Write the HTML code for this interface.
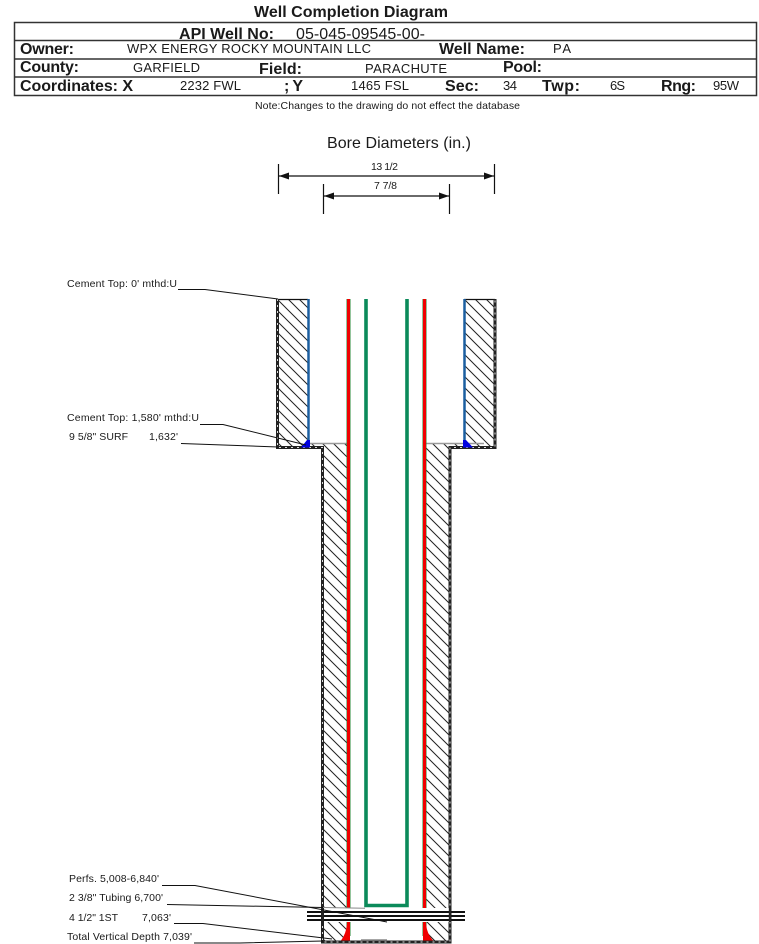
<!DOCTYPE html>
<html><head><meta charset="utf-8"><style>
html,body{margin:0;padding:0;background:#fff}
svg{display:block}
text{font-family:"Liberation Sans",sans-serif;fill:#1a1a1a}
.b{font-weight:bold}
</style></head><body>
<svg width="759" height="944" viewBox="0 0 759 944" xmlns="http://www.w3.org/2000/svg">
<defs>
<pattern id="h" width="11" height="11" patternUnits="userSpaceOnUse">
<path d="M-2,-2 L13,13 M-2,9 L2,13 M9,-2 L13,2" stroke="#222" stroke-width="1" fill="none"/>
</pattern>
</defs>

<text class="b" x="254" y="17" font-size="16" textLength="194">Well Completion Diagram</text>
<g fill="none" stroke="#333" stroke-width="1.5">
<rect x="14.5" y="22.5" width="742" height="73"/>
<path d="M14,40.5H757M14,59H757M14,77H757"/>
</g>
<text class="b" x="179" y="39" font-size="16" textLength="95">API Well No:</text>
<text x="296" y="39" font-size="16" textLength="129">05-045-09545-00-</text>
<text class="b" x="20" y="54" font-size="16" textLength="54">Owner:</text>
<text x="127" y="53" font-size="13" textLength="244">WPX ENERGY ROCKY MOUNTAIN LLC</text>
<text class="b" x="439" y="54" font-size="16" textLength="86">Well Name:</text>
<text x="553" y="53" font-size="13" textLength="18">PA</text>
<text class="b" x="20" y="72" font-size="16" textLength="59">County:</text>
<text x="133" y="72" font-size="13" textLength="67">GARFIELD</text>
<text class="b" x="259" y="74" font-size="16" textLength="43">Field:</text>
<text x="365" y="73" font-size="13" textLength="82">PARACHUTE</text>
<text class="b" x="503" y="72" font-size="16" textLength="39">Pool:</text>
<text class="b" x="20" y="91" font-size="16" textLength="113">Coordinates: X</text>
<text x="180" y="90" font-size="13" textLength="61">2232 FWL</text>
<text class="b" x="284" y="91" font-size="16" textLength="19">; Y</text>
<text x="351" y="90" font-size="13" textLength="58">1465 FSL</text>
<text class="b" x="445" y="91" font-size="16" textLength="34">Sec:</text>
<text x="503" y="90" font-size="13" textLength="14">34</text>
<text class="b" x="542" y="91" font-size="16" textLength="38">Twp:</text>
<text x="610" y="90" font-size="13" textLength="15">6S</text>
<text class="b" x="661" y="91" font-size="16" textLength="35">Rng:</text>
<text x="713" y="90" font-size="13" textLength="26">95W</text>
<text x="255" y="109" font-size="10.5" textLength="265">Note:Changes to the drawing do not effect the database</text>

<text x="327" y="148" font-size="16" textLength="144">Bore Diameters (in.)</text>
<text x="371" y="170" font-size="10.5" textLength="27">13 1/2</text>
<text x="374" y="189" font-size="10.5" textLength="23">7 7/8</text>
<g stroke="#111" stroke-width="1.2" fill="none">
<path d="M278.5,164V194M494.5,164V194M323.5,184V214M449.5,184V214"/>
<path d="M279,176H494M324,196H449"/>
</g>
<g fill="#111">
<path d="M279,176L289,172.5V179.5Z M494,176L484,172.5V179.5Z M324,196L334,192.5V199.5Z M449,196L439,192.5V199.5Z"/>
</g>

<!-- hatched cement -->
<path fill="url(#h)" d="M278,299H308V444H348V908H323V448H278Z"/>
<path fill="url(#h)" d="M464,299H495V448H450V908H425V444H464Z"/>
<rect x="323" y="922" width="25" height="20" fill="url(#h)"/>
<rect x="425" y="922" width="25" height="20" fill="url(#h)"/>

<!-- top/grey edges -->
<path d="M278,299.5H308M464,299.5H495" stroke="#111" stroke-width="1.2"/>
<path d="M308,443.5H347M426,443.5H484" stroke="#999" stroke-width="1.4"/>

<!-- casing outlines -->
<path d="M277.5,299V447.5H322.5V942H450V447.5H495V299" fill="none" stroke="#222" stroke-width="3"/>
<path d="M277.5,299V447.5H322.5V942H450V447.5H495V299" fill="none" stroke="#ddd" stroke-width="1" stroke-dasharray="2 4"/>

<!-- blue casing -->
<path d="M308.5,299V446M464.5,299V446" stroke="#1b5fa0" stroke-width="2.5" fill="none"/>
<path d="M301,447.5L307,440H310V447.5Z M463,440H466L473,447.5H463Z" fill="#0000e0"/>

<!-- production casing -->
<path d="M348.5,299V908M348.5,922V936M424.5,299V908M424.5,922V936" fill="none" stroke="#2a8a3a" stroke-width="4"/>
<path d="M348.5,299V908M348.5,922V936M424.5,299V908M424.5,922V936" fill="none" stroke="#f00000" stroke-width="3"/>
<path d="M341,940.5Q346,934 347,924V922H350V940.5Z M423,922H426V924Q427,934 433,940.5H423Z" fill="#f00000"/>

<!-- tubing -->
<path d="M366,299V905.5H407V299" fill="none" stroke="#0b8a5a" stroke-width="3.6"/>

<!-- break -->
<rect x="324" y="908" width="125" height="14" fill="#fff"/>
<path d="M307,912H465M307,916H465M307,920H465" stroke="#111" stroke-width="2"/>
<path d="M322.5,908V922M450,908V922" stroke="#222" stroke-width="2.4"/>

<path d="M361,940H387" stroke="#888" stroke-width="1.5"/>

<!-- leaders -->
<g fill="none" stroke="#111" stroke-width="1">
<path d="M178,289.5H205L278,299"/>
<path d="M200,424.5H223L306,445"/>
<path d="M181,443.5L278,447"/>
<path d="M162,885.5H195L387,922"/>
<path d="M167,904.5L323,907.5"/>
<path d="M323,907.5L365,908.3" stroke="#888"/>
<path d="M174,923.5H203L332,939"/>
<path d="M194,943H240L323,941"/>
</g>

<g font-size="10.5">
<text x="67" y="287" textLength="110">Cement Top: 0' mthd:U</text>
<text x="67" y="421" textLength="132">Cement Top: 1,580' mthd:U</text>
<text x="69" y="440" textLength="59">9 5/8" SURF</text>
<text x="149" y="440" textLength="29">1,632'</text>
<text x="69" y="882" textLength="90">Perfs. 5,008-6,840'</text>
<text x="69" y="901" textLength="94">2 3/8" Tubing 6,700'</text>
<text x="69" y="921" textLength="49">4 1/2" 1ST</text>
<text x="142" y="921" textLength="29">7,063'</text>
<text x="67" y="940" textLength="125">Total Vertical Depth 7,039'</text>
</g>
</svg>
</body></html>
